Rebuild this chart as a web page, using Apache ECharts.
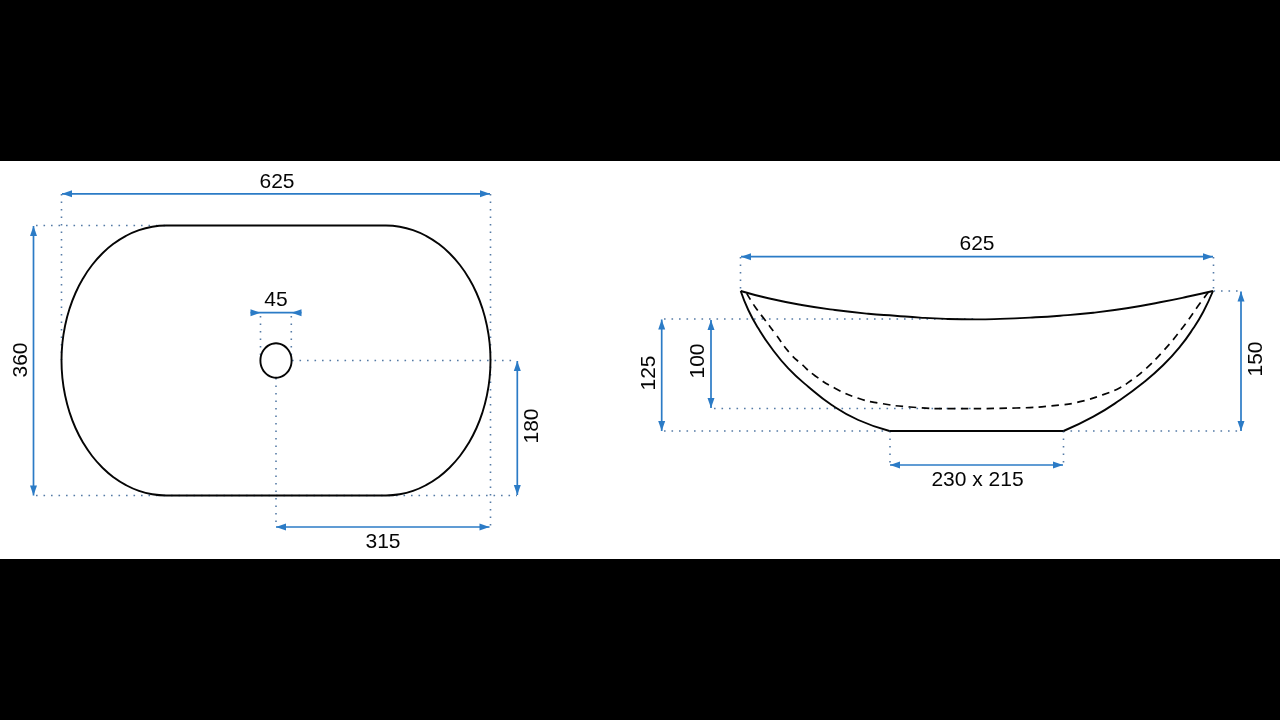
<!DOCTYPE html>
<html>
<head>
<meta charset="utf-8">
<style>html,body{margin:0;padding:0;background:#000}#c{width:1280px;height:720px}</style>
<script src="https://cdn.jsdelivr.net/npm/echarts@6/dist/echarts.min.js"></script>
</head>
<body>
<div id="c"></div>
<script>
// Outlines
const planTop = [[166,225.5],[386,225.5]];
const planBottom = [[166,495.5],[386,495.5]];
const planRightArc = [
[386,225.5],[399.7,226.7],[413,230.1],[426,235.8],[438.25,243.6],[449.6,253.4],[459.9,265],[468.9,278.3],[476.5,293],[482.5,308.8],[486.9,325.6],[489.6,342.9],[490.5,360.5],
[489.6,378.1],[486.9,395.4],[482.5,412.2],[476.5,428],[468.9,442.7],[459.9,456],[449.6,467.6],[438.25,477.4],[426,485.2],[413,490.9],[399.7,494.3],[386,495.5]];
const planLeftArc = [
[166,495.5],[152.3,494.3],[139,490.9],[126,485.2],[113.75,477.4],[102.4,467.6],[92.1,456],[83.1,442.7],[75.5,428],[69.5,412.2],[65.1,395.4],[62.4,378.1],[61.5,360.5],
[62.4,342.9],[65.1,325.6],[69.5,308.8],[75.5,293],[83.1,278.3],[92.1,265],[102.4,253.4],[113.75,243.6],[126,235.8],[139,230.1],[152.3,226.7],[166,225.5]];
const drainHole = [
[291.6,360.5],[291.1,365],[289.5,369.1],[287,372.7],[283.8,375.4],[280,377.1],[276,377.7],[272,377.1],[268.2,375.4],[265,372.7],[262.5,369.1],[260.9,365],[260.4,360.5],
[260.9,356],[262.5,351.9],[265,348.3],[268.2,345.6],[272,343.9],[276,343.3],[280,343.9],[283.8,345.6],[287,348.3],[289.5,351.9],[291.1,356],[291.6,360.5]];
const sideRim = [[740.7,291],[768.3,298.3],[801.7,305],[835,310],[868.3,313.7],[895,315.7],[920,317.6],[946,318.9],[976,319.4],[1000,318.9],[1030,317.6],[1060,315.7],[1093.3,312.7],[1126.7,308.3],[1160,302.3],[1187,296.8],[1213,291]];
const sideBodyLeft = [[740.7,291],[748.3,310],[758.3,328.3],[771.7,348.3],[788.3,368.3],[808.3,386.7],[831.7,405],[858.3,420],[889.5,431]];
const sideBase = [[889.5,431],[1063.5,431]];
const sideBodyRight = [[1063.5,431],[1093.3,416.7],[1120,400],[1143.3,382.7],[1163.3,365],[1180,346.7],[1193.3,328.3],[1203.3,311.7],[1213,291]];
const sideInner = [[746.7,293.3],[755,306.7],[765,320],[775,333.3],[790,353.3],[801.7,364.3],[815,375.7],[835,388.3],[858.3,398.3],[878.3,403],[910,407],[953,408.7],[1016,408],[1060,405],[1080,401.7],[1103.3,394.6],[1120,387.7],[1131.7,380],[1143.3,371],[1163.3,351],[1183.3,326.7],[1200,303.3],[1208.3,292.3]];

// Dimension arrows: [fromTip, toTip]
const dimensionArrows = [
[[62,193.8],[490,193.8]],[[33.5,226],[33.5,495.5]],[[517.3,361],[517.3,495]],[[276,527],[489.5,527]],
[[741,256.7],[1213,256.7]],[[661.7,319.5],[661.7,431]],[[711,320],[711,408]],[[1241,291.5],[1241,431]],[[890,465],[1063,465]]];
const inwardArrows = [[[250.5,312.7],[301.5,312.7]]];

// Dotted extension lines
const extensionLines = [
[[61.5,194],[61.5,360]],[[490.5,194],[490.5,527]],[[36,225.5],[166,225.5]],[[36,495.5],[517,495.5]],
[[260.5,316],[260.5,360]],[[291.3,316],[291.3,360]],[[292,360.5],[517,360.5]],[[276,378],[276,527]],
[[740.5,257],[740.5,291]],[[1213.5,257],[1213.5,291]],[[1213.5,291],[1241,291]],
[[664,319],[975,319]],[[714,408.5],[975,408.5]],[[664,431],[890,431]],[[1063,431],[1241,431]],
[[890,431],[890,465]],[[1063.5,431],[1063.5,465]]];

// Dimension labels: [x, y, text, rotation]
const dimensionLabels = [
[277,182.5,'625',0],[276,300.5,'45',0],[21.5,360,'360',90],[532,426,'180',90],[383,542,'315',0],
[977,244.5,'625',0],[649,373,'125',90],[698.5,361,'100',90],[1256,359,'150',90],[977.5,480.5,'230 x 215',0]];

const BLUE = '#2b7bc6', DOT = '#557ba6', INK = '#050505';
const ARROW_W = 7, ARROW_L = 10;

function rotFor(dx, dy){
  if (Math.abs(dx) > Math.abs(dy)) return dx > 0 ? -90 : 90;
  return dy > 0 ? 180 : 0;
}
function arrowPoint(pt, other, inward){
  const dx = pt[0]-other[0], dy = pt[1]-other[1];
  const len = Math.hypot(dx,dy), ux = dx/len, uy = dy/len;
  const s = inward ? -1 : 1;
  return {value: pt, symbol:'triangle', symbolSize:[ARROW_W,ARROW_L], symbolRotate: rotFor(s*dx,s*dy),
          symbolOffset:[-ux*ARROW_L/2, -uy*ARROW_L/2], itemStyle:{color:BLUE, opacity:1}};
}
function lineSeries(data, color, width, type, z, smooth){
  return {type:'line', data, showSymbol:false, symbol:'none', silent:true, z, animation:false, smooth:smooth||false,
          lineStyle:{color, width, type, cap:'butt', join:'round'}, itemStyle:{color}};
}
const series = [];
extensionLines.forEach(l => series.push(lineSeries(l, DOT, 1.6, [1.6,5.9], 1)));
[planTop, planBottom, sideBase].forEach(o => series.push(lineSeries(o, INK, 1.9, 'solid', 3)));
[planLeftArc, planRightArc, drainHole, sideRim, sideBodyLeft, sideBodyRight].forEach(o => series.push(lineSeries(o, INK, 1.9, 'solid', 3, 0.5)));
series.push(lineSeries(sideInner, INK, 1.7, [7.5,5.5], 3, 0.5));
dimensionArrows.concat(inwardArrows).forEach((a,i) => {
  const inward = i >= dimensionArrows.length;
  series.push({type:'line', silent:true, z:4, animation:false, showSymbol:true, showAllSymbol:true,
    lineStyle:{color:BLUE,width:1.7},
    data:[arrowPoint(a[0],a[1],inward), arrowPoint(a[1],a[0],inward)]});
});
series.push({type:'scatter', symbolSize:0, silent:true, z:5, animation:false, itemStyle:{opacity:1},
  data: dimensionLabels.map(d => ({value:[d[0],d[1]], itemStyle:{opacity:1},
    label:{show:true, position:'inside', opacity:1, formatter:d[2], rotate:d[3], color:'#050505', fontSize:21, fontFamily:'Liberation Sans', align:'center', verticalAlign:'middle'}}))});

const chart = echarts.init(document.getElementById('c'), null, {renderer:'canvas', width:1280, height:720});
chart.setOption({
  backgroundColor:'#000',
  animation:false,
  tooltip:{show:false},
  grid:{show:true, left:0, top:161, width:1280, height:398, backgroundColor:'#fff', borderWidth:0},
  xAxis:{type:'value', min:0, max:1280, show:false},
  yAxis:{type:'value', min:161, max:559, inverse:true, show:false},
  series
});
</script>
</body>
</html>
